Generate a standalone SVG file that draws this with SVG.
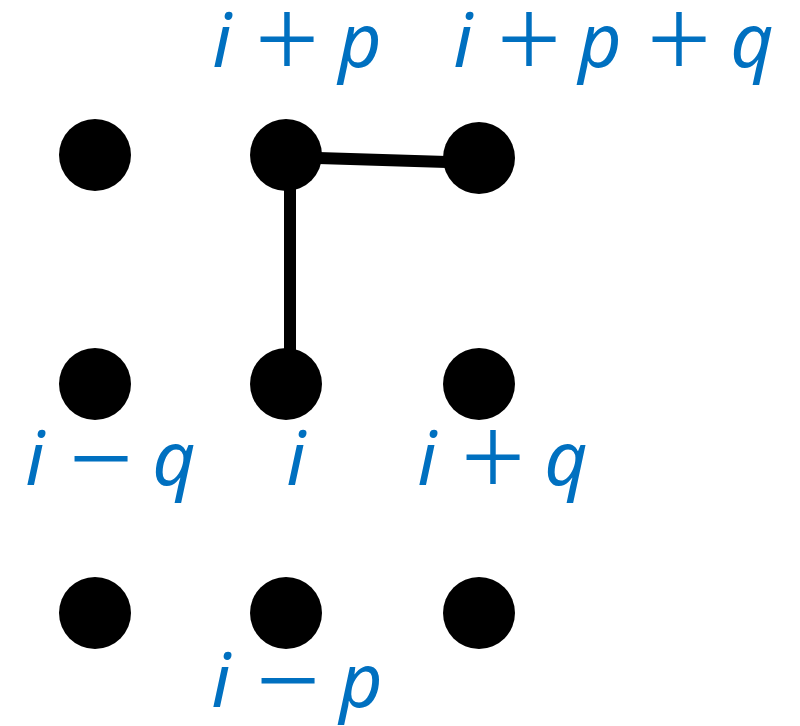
<svg xmlns="http://www.w3.org/2000/svg" width="800" height="726" viewBox="0 0 800 726">
<style>
.dot{fill:#000}
.edge{stroke:#000;stroke-width:12;fill:none}
.lbl{font-family:"Noto Sans",sans-serif;font-size:75px;fill:#0070C0;text-anchor:middle}
.v{font-style:italic}
.op{font-size:114px;font-weight:300}
</style>
<rect width="800" height="726" fill="#fff"/>
<g id="connectors">
<line class="edge" x1="286" y1="157" x2="479" y2="163"/>
<line class="edge" x1="290" y1="155" x2="290" y2="384"/>
</g>
<g id="n-ipm"><circle class="dot" cx="95" cy="155" r="36"/></g>
<g id="n-ip"><circle class="dot" cx="286" cy="155" r="36"/>
<text class="lbl" y="67"><tspan class="v" x="222">i</tspan><tspan class="op" x="287" y="79">+</tspan><tspan class="v" x="360" y="67">p</tspan></text></g>
<g id="n-ipq"><circle class="dot" cx="479" cy="158" r="36"/>
<text class="lbl" y="67"><tspan class="v" x="463">i</tspan><tspan class="op" x="529" y="79">+</tspan><tspan class="v" x="600" y="67">p</tspan><tspan class="op" x="679" y="79">+</tspan><tspan class="v" x="752" y="67">q</tspan></text></g>
<g id="n-imq"><circle class="dot" cx="95" cy="384" r="36"/>
<text class="lbl" y="485"><tspan class="v" x="35">i</tspan><tspan class="op" x="101" y="499">−</tspan><tspan class="v" x="174" y="485">q</tspan></text></g>
<g id="n-i"><circle class="dot" cx="286" cy="384" r="36"/>
<text class="lbl v" x="296" y="485">i</text></g>
<g id="n-iq"><circle class="dot" cx="479" cy="384" r="36"/>
<text class="lbl" y="485"><tspan class="v" x="427">i</tspan><tspan class="op" x="493" y="497">+</tspan><tspan class="v" x="566" y="485">q</tspan></text></g>
<g id="n-ipmq"><circle class="dot" cx="95" cy="613" r="36"/></g>
<g id="n-imp"><circle class="dot" cx="286" cy="613" r="36"/>
<text class="lbl" y="707"><tspan class="v" x="221">i</tspan><tspan class="op" x="288" y="721">−</tspan><tspan class="v" x="361" y="707">p</tspan></text></g>
<g id="n-iqp"><circle class="dot" cx="479" cy="613" r="36"/></g>
</svg>
